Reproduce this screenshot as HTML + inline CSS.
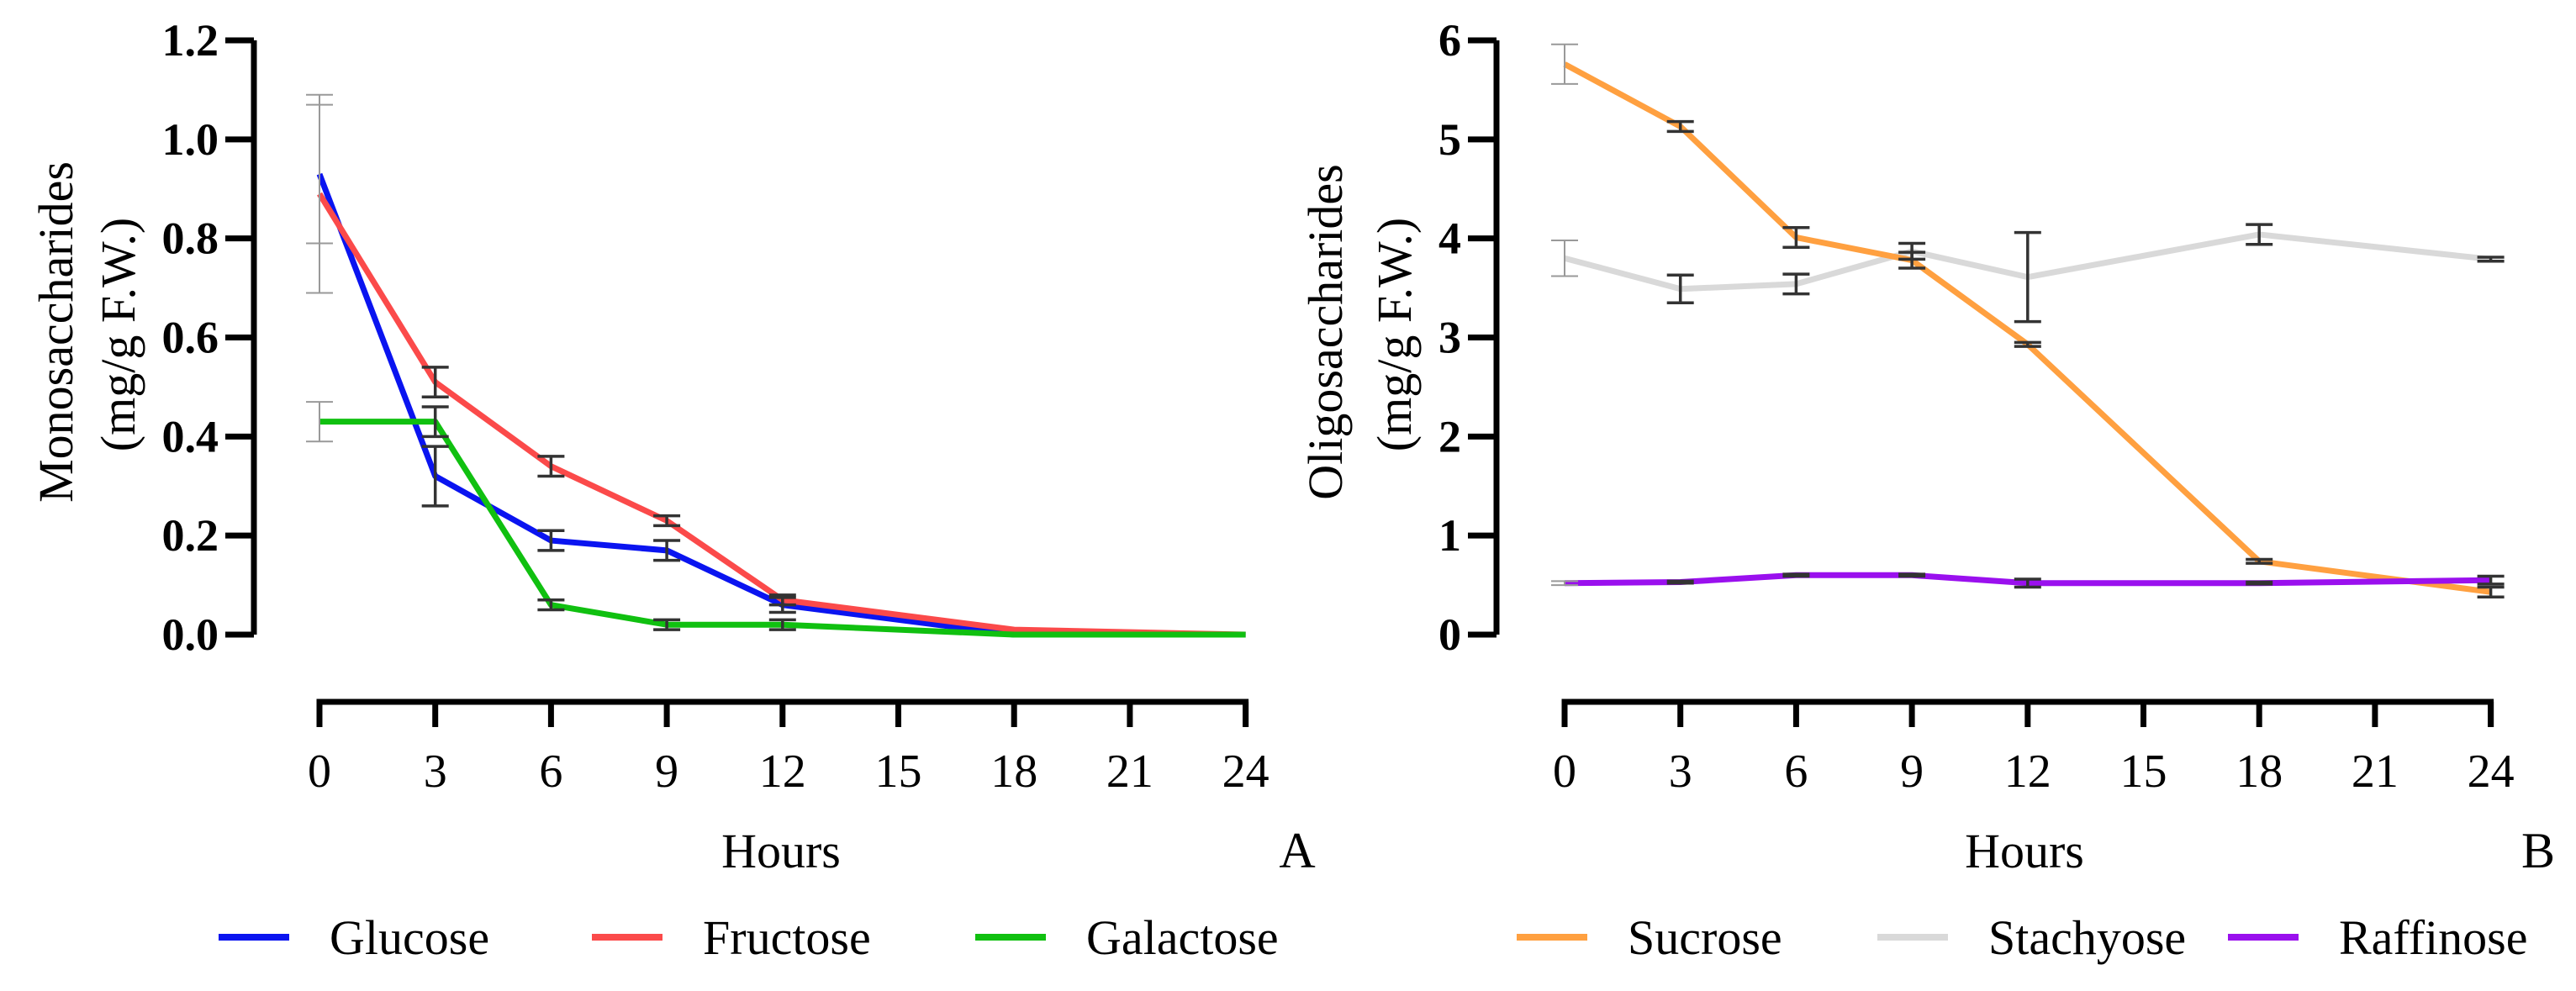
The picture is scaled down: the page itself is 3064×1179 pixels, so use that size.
<!DOCTYPE html>
<html><head><meta charset="utf-8"><style>
html,body{margin:0;padding:0;background:#fff;}
svg{display:block;}
text{font-family:"Liberation Serif",serif;fill:#000;}
</style></head><body>
<svg id="chart" width="3064" height="1179" viewBox="0 0 3064 1179" xmlns="http://www.w3.org/2000/svg"></svg>
<script>
const hours = [0, 3, 6, 9, 12, 18, 24];
const xTicks = [0, 3, 6, 9, 12, 15, 18, 21, 24];
const leftYTicks = [0, 0.2, 0.4, 0.6, 0.8, 1.0, 1.2];
const rightYTicks = [0, 1, 2, 3, 4, 5, 6];
const glucose = [0.93, 0.32, 0.19, 0.17, 0.06, 0, 0];
const glucoseErr = [0.14, 0.06, 0.02, 0.02, 0.015, 0, 0];
const fructose = [0.89, 0.51, 0.34, 0.23, 0.07, 0.01, 0];
const fructoseErr = [0.2, 0.03, 0.02, 0.01, 0.01, 0, 0];
const galactose = [0.43, 0.43, 0.06, 0.02, 0.02, 0, 0];
const galactoseErr = [0.04, 0.03, 0.01, 0.01, 0.01, 0, 0];
const sucrose = [5.76, 5.13, 4.01, 3.78, 2.93, 0.74, 0.43];
const sucroseErr = [0.2, 0.05, 0.1, 0.08, 0.02, 0.02, 0.05];
const stachyose = [3.8, 3.49, 3.54, 3.87, 3.61, 4.04, 3.79];
const stachyoseErr = [0.18, 0.14, 0.1, 0.08, 0.45, 0.1, 0.02];
const raffinose = [0.52, 0.53, 0.6, 0.6, 0.52, 0.52, 0.55];
const raffinoseErr = [0.02, 0.01, 0.01, 0.01, 0.04, 0.01, 0.04];

const NS = "http://www.w3.org/2000/svg";
const svg = document.getElementById('chart');
function el(tag, attrs, parent){
  const e = document.createElementNS(NS, tag);
  for (const k in attrs) e.setAttribute(k, attrs[k]);
  (parent || svg).appendChild(e);
  return e;
}

function panel(opt){
  const g = el('g', {});
  
  
  const x0 = opt.x0, xPer = 45.9, yTop = 48, yBot = 755;
  const xs = h => x0 + h * xPer;
  const ys = v => yBot - (v / opt.yMax) * (yBot - yTop);
  const axX = opt.axisX;
  // y axis
  const ya = el('path', {d:`M${axX} ${yTop} V${yBot}`, stroke:'#000', 'stroke-width':7, fill:'none'}, g);
  
  
  opt.yTicks.forEach(t => {
    const y = ys(t);
    el('line', {x1:axX-34, x2:axX, y1:y, y2:y, stroke:'#000', 'stroke-width':7}, g);
    const tx = el('text', {x:axX-42, y:y+18, 'text-anchor':'end', 'font-size':54, 'font-weight':'bold'}, g);
    tx.textContent = opt.fmt(t);
    
    
  });
  // x axis
  const xa = el('path', {d:`M${xs(0)} 865 V835 H${xs(24)} V865`, stroke:'#000', 'stroke-width':7, fill:'none'}, g);
  
  
  xTicks.forEach(t => {
    const x = xs(t);
    el('line', {x1:x, x2:x, y1:835, y2:865, stroke:'#000', 'stroke-width':7}, g);
    const tx = el('text', {x:x, y:936, 'text-anchor':'middle', 'font-size':56}, g);
    tx.textContent = t;
    
    
  });
  // axis titles
  const xt = el('text', {x:opt.hoursX, y:1032, 'text-anchor':'middle', 'font-size':58}, g);
  xt.textContent = 'Hours';
  
  
  const pl = el('text', {x:opt.letterX, y:1032, 'text-anchor':'middle', 'font-size':60}, g);
  pl.textContent = opt.letter;
  
  
  const yt1 = el('text', {x:0, y:0, 'text-anchor':'middle', 'font-size':58, transform:`translate(${opt.t1x},395) rotate(-90)`}, g);
  yt1.textContent = opt.title1;
  
  
  const yt2 = el('text', {x:0, y:0, 'text-anchor':'middle', 'font-size':58, transform:`translate(${opt.t2x},398) rotate(-90)`}, g);
  yt2.textContent = '(mg/g F.W.)';
  
  
  // series
  opt.series.forEach(s => {
    const pts = hours.map((h,i) => `${xs(h)},${ys(s.vals[i])}`).join(' ');
    const pl = el('polyline', {points:pts, fill:'none', stroke:s.color, 'stroke-width':7, 'stroke-linejoin':'round'}, g);
    
    
  });
  opt.series.forEach(s => {
    hours.forEach((h,i) => {
      const e = s.err[i]; if (!e) return;
      const x = xs(h), y1 = ys(s.vals[i]+e), y2 = ys(s.vals[i]-e);
      const col = i === 0 ? '#999' : '#333';
      const eb = el('path', {d:`M${x} ${y1} V${y2} M${x-16} ${y1} H${x+16} M${x-16} ${y2} H${x+16}`, stroke:col, 'stroke-width':i===0?2:3.5, fill:'none'}, g);
      
      
    });
  });
  // legend
  opt.series.forEach(s => {
    const lg = el('g', {}, g);
    
    
    el('line', {x1:s.lx, x2:s.lx+84, y1:1115, y2:1115, stroke:s.color, 'stroke-width':8}, lg);
    const t = el('text', {x:s.lx+132, y:1135, 'font-size':58}, lg);
    t.textContent = s.label;
  });
}

panel({name:'monosaccharides-chart', x0:380, axisX:302, yMax:1.2, yTicks:leftYTicks,
  fmt:v=>v.toFixed(1), hoursX:929, letterX:1543, letter:'A', title1:'Monosaccharides', t1x:86, t2x:160,
  series:[
    {key:'glucose', label:'Glucose', color:'#0a14f0', vals:glucose, err:glucoseErr, lx:260},
    {key:'fructose', label:'Fructose', color:'#fb4a4a', vals:fructose, err:fructoseErr, lx:704},
    {key:'galactose', label:'Galactose', color:'#10c010', vals:galactose, err:galactoseErr, lx:1160}
  ]});
panel({name:'oligosaccharides-chart', x0:1861, axisX:1780, yMax:6, yTicks:rightYTicks,
  fmt:v=>String(v), hoursX:2408, letterX:3019, letter:'B', title1:'Oligosaccharides', t1x:1596, t2x:1678,
  series:[
    {key:'stachyose', label:'Stachyose', color:'#d9d9d9', vals:stachyose, err:stachyoseErr, lx:2233},
    {key:'sucrose', label:'Sucrose', color:'#ffa040', vals:sucrose, err:sucroseErr, lx:1804},
    {key:'raffinose', label:'Raffinose', color:'#9a10ee', vals:raffinose, err:raffinoseErr, lx:2650}
  ]});
</script>
</body></html>
